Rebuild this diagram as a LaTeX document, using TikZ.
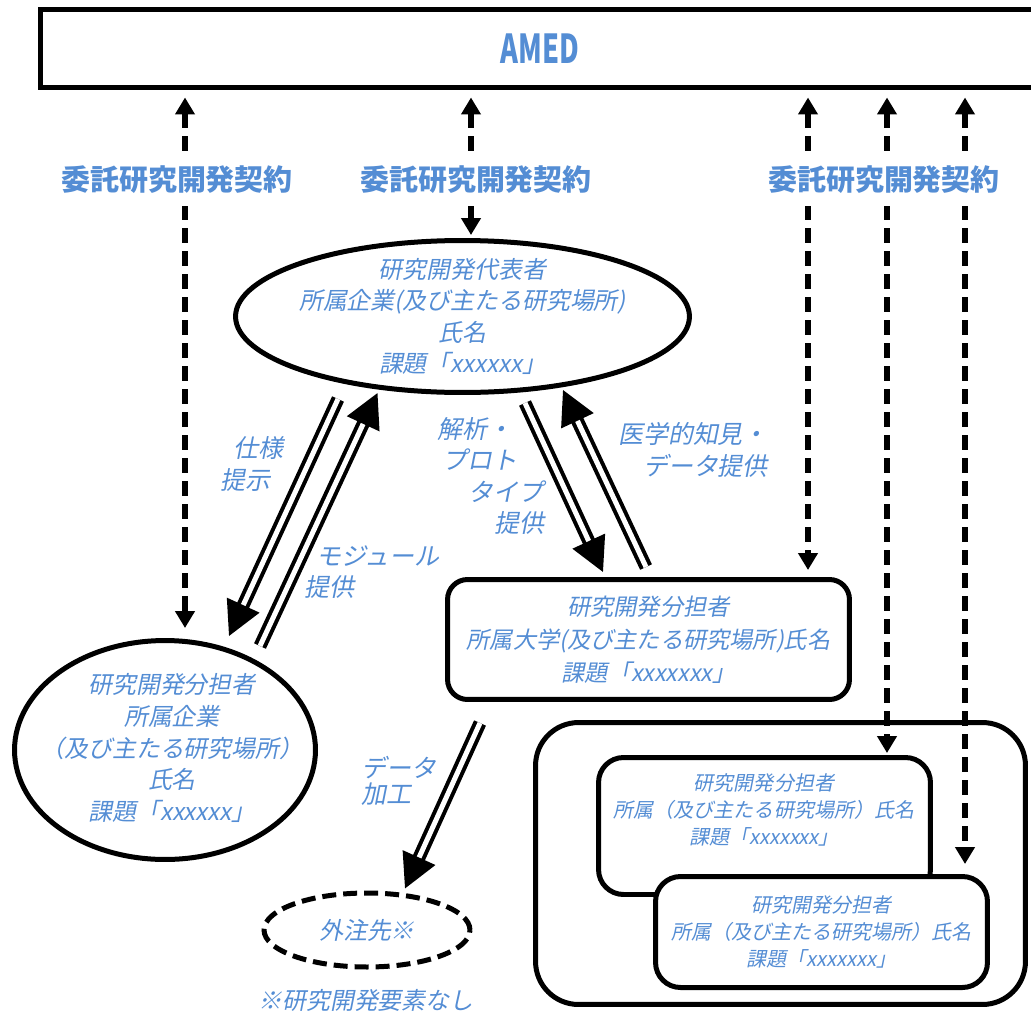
\documentclass[tikz,border=0pt]{standalone}
\usepackage{fontspec}
\usepackage{graphicx}
\usetikzlibrary{arrows.meta,positioning,shapes.geometric,calc}
\newfontfamily\jp{Noto Sans CJK JP}
\newfontfamily\jpi[FakeSlant=0.2]{Noto Sans CJK JP}
\definecolor{amblue}{RGB}{84,141,212}

\begin{document}
\begin{tikzpicture}[x=0.02cm, y=-0.02cm,
  frame/.style={draw=black, line width=0.1cm, inner sep=0pt},
  oval/.style={frame, ellipse},
  card/.style={frame, rounded corners=0.5cm, fill=white},
  txt/.style={font=\jpi\fontsize{13.6}{18}\selectfont, text=amblue, align=center, inner sep=0pt},
  small/.style={txt, font=\jpi\fontsize{11.4}{15.4}\selectfont},
  contract/.style={font=\jp\bfseries\fontsize{16.5}{18}\selectfont, text=amblue, fill=white,
    inner xsep=2pt, inner ysep=0.25cm},
  link/.style={line width=0.12cm, dash pattern=on 0.3cm off 0.16cm,
    {Triangle[length=0.34cm,width=0.38cm]}-{Triangle[length=0.34cm,width=0.38cm]}},
  flow/.style={double, double distance=0.1cm, line width=0.08cm,
    -{Triangle[length=0.68cm,width=0.7cm]}}
]
\useasboundingbox (0,0) rectangle (1031,1011);

\node[frame, minimum width=20cm, minimum height=1.58cm, text=amblue,
  font=\jp\bfseries\fontsize{22.7}{24}\selectfont] (amed) at (540,48.5) {\scalebox{0.68}[1]{AMED}};

\node[oval, minimum width=9.08cm, minimum height=3.04cm] (rep) at (462.5,316.5) {};
\node[txt] (reptxt) at (rep) {研究開発代表者\\所属企業(及び主たる研究場所)\\氏名\\課題「xxxxxx」};

\node[oval, minimum width=6.02cm, minimum height=4.38cm] (lcomp) at (165,750) {};
\node[txt] (lcomptxt) at (172,748) {研究開発分担者\\所属企業\\（及び主たる研究場所）\\氏名\\課題「xxxxxx」};

\node[card, rounded corners=0.4cm, minimum width=8.04cm, minimum height=2.4cm] (univ) at (648.5,639.5) {};
\node[txt, font=\jpi\fontsize{13.2}{18.8}\selectfont] (univtxt) at (univ) {研究開発分担者\\所属大学(及び主たる研究場所)氏名\\課題「xxxxxxx」};

\node[frame, rounded corners=0.86cm, minimum width=9.8cm, minimum height=5.64cm] (grp) at (780.5,863.5) {};
\node[card, minimum width=6.64cm, minimum height=2.74cm] (sub1) at (764.5,826) {};
\node[small] (sub1txt) at (764,810) {研究開発分担者\\所属（及び主たる研究場所）氏名\\課題「xxxxxxx」};
\node[card, minimum width=6.64cm, minimum height=2.22cm] (sub2) at (821.5,932) {};
\node[small] (sub2txt) at (sub2) {研究開発分担者\\所属（及び主たる研究場所）氏名\\課題「xxxxxxx」};

\node[oval, dash pattern=on 0.28cm off 0.14cm, minimum width=4.12cm, minimum height=1.48cm,
  text=amblue, font=\jpi\fontsize{13.6}{18}\selectfont] (ext) at (367,930) {外注先※};
\node[txt] (note) at (366,1000) {※研究開発要素なし};

\draw[link, shorten <=0.14cm, shorten >=0.2cm] (185,0 |- amed.south) -- (185,0 |- lcomp.north);
\draw[link, shorten <=0.14cm, shorten >=0.06cm] (471,0 |- amed.south) -- (471,0 |- rep.north);
\draw[link, shorten <=0.14cm, shorten >=0.14cm] (808,0 |- amed.south) -- (808,0 |- univ.north);
\draw[link, shorten <=0.14cm, shorten >=0.04cm] (887,0 |- amed.south) -- (887,0 |- sub1.north);
\draw[link, shorten <=0.14cm, shorten >=0.2cm] (965,0 |- amed.south) -- (965,0 |- sub2.north);

\node[contract] (c1) at (177,180) {委託研究開発契約};
\node[contract] (c2) at (476,180) {委託研究開発契約};
\node[contract] (c3) at (884,180) {委託研究開発契約};

\draw[flow] ($(rep.south)+(-124.5,4)$) -- ($(lcomp.north)+(64,-2)$);
\draw[flow] ($(lcomp.north)+(95,8)$) -- ($(rep.south)+(-85,-2)$);
\draw[flow] ($(rep.south)+(62.5,8)$) -- ($(univ.north)+(-45.5,-5)$);
\draw[flow] ($(univ.north)+(-2.5,-10)$) -- ($(rep.south)+(100.5,-5)$);
\draw[flow] ($(univ.south)+(-168.5,21)$) -- ($(ext.north)+(38,-2)$);

\node[txt, align=left, font=\jpi\fontsize{14.2}{18}\selectfont] (spec) at (252,464) {\hspace*{.5em}仕様\\提示};
\node[txt, align=left, font=\jpi\fontsize{14.2}{18}\selectfont] (modl) at (372,572) {\hspace*{.5em}モジュール\\提供};
\node[txt, align=left, font=\jpi\fontsize{14.2}{18}\selectfont] (proto) at (491,476) {解析・\\\hspace*{.2em}プロト\\\hspace*{1.25em}タイプ\\\hspace*{2.3em}提供};
\node[txt, align=right, font=\jpi\fontsize{14.2}{18}\selectfont] (medk) at (693,450) {医学的知見・\\データ提供};
\node[txt, align=left, font=\jpi\fontsize{14.2}{15}\selectfont] (proc) at (399,781) {データ\\加工};
\end{tikzpicture}
\end{document}
